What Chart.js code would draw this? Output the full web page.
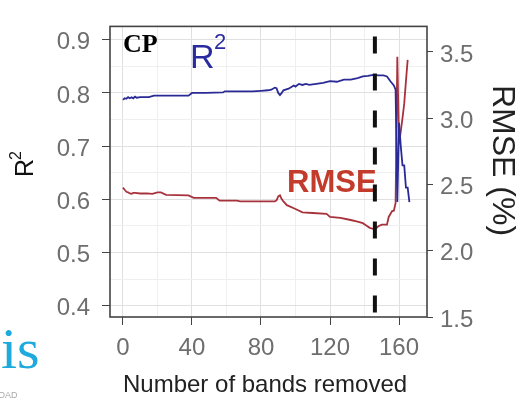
<!DOCTYPE html>
<html><head><meta charset="utf-8">
<script src="https://cdn.jsdelivr.net/npm/chart.js@4"></script>
<style>html,body{margin:0;padding:0;background:#fff;}#wrap{width:520px;height:400px;position:relative;}</style>
</head><body><div id="wrap"><canvas id="c" width="520" height="400"></canvas></div>
<script>
// ---- data ----
const bandsR2 = [0,1,2,3,4,5,6,7,8,10,12,15,18,25,32,38,40,48,58,59,66,75,80,84,86,88,89,90,91,92,93,96,99,100,102,104,106,108,112,116,120,124,128,132,136,139,142,145,148,151,153,155,157,158,159,160,161,162,163,164,165,166];
const r2Values = [0.787,0.790,0.789,0.792,0.790,0.792,0.790,0.793,0.791,0.792,0.792,0.792,0.795,0.795,0.795,0.795,0.800,0.800,0.801,0.803,0.803,0.803,0.804,0.805,0.806,0.810,0.809,0.800,0.796,0.800,0.805,0.808,0.814,0.812,0.817,0.815,0.817,0.815,0.817,0.819,0.822,0.821,0.825,0.825,0.828,0.831,0.832,0.834,0.833,0.833,0.831,0.822,0.814,0.806,0.595,0.744,0.700,0.664,0.664,0.622,0.622,0.595];
const bandsRMSE = [0,1,2,3,4,5,6,7,10,14,17,20,22,25,38,41,54,56,66,68,88,89,90,91,92,93,95,100,104,110,118,120,126,132,136,139,141,143,146,148,150,153,154,156,157,158,159,160,161,162,163,164,165];
const rmseValues = [2.476,2.460,2.445,2.441,2.432,2.429,2.436,2.436,2.432,2.433,2.429,2.440,2.440,2.422,2.418,2.399,2.399,2.378,2.378,2.372,2.372,2.380,2.410,2.418,2.390,2.372,2.344,2.315,2.290,2.285,2.278,2.255,2.248,2.232,2.220,2.208,2.190,2.173,2.162,2.185,2.197,2.197,2.255,2.300,2.302,2.360,3.463,2.810,2.900,3.000,3.110,3.280,3.440];
const cutoffBand = 146;
const xTicks = [0,40,80,120,160];
const xGrid = [0,20,40,60,80,100,120,140,160];
const r2Ticks = [0.4,0.5,0.6,0.7,0.8,0.9];
const r2Grid = [0.4,0.45,0.5,0.55,0.6,0.65,0.7,0.75,0.8,0.85,0.9];
const rmseTicks = [1.5,2.0,2.5,3.0,3.5];

const SANS = '"Liberation Sans", Arial, sans-serif';
const SERIF = '"Liberation Serif", "Times New Roman", serif';
const isMajor = (arr, v) => arr.some(t => Math.abs(t - v) < 1e-6);

const deco = {
  id: 'deco',
  afterDatasetsDraw(chart) {
    const c = chart.ctx, a = chart.chartArea, xs = chart.scales.x;
    c.save();
    // annotations
    c.fillStyle = '#000';
    c.font = 'bold 26px ' + SERIF;
    c.textAlign = 'left'; c.textBaseline = 'alphabetic';
    c.fillText('CP', 123, 52);
    c.fillStyle = '#2b2ba0';
    c.font = '34px ' + SANS;
    c.fillText('R', 190, 68);
    c.font = '22px ' + SANS;
    c.fillText('2', 214, 49);
    c.fillStyle = '#c23b2b';
    c.font = 'bold 31px ' + SANS;
    c.fillText('RMSE', 287, 192);
    // dashed cutoff line
    const xp = xs.getPixelForValue(cutoffBand);
    c.strokeStyle = '#111';
    c.lineWidth = 4;
    c.setLineDash([17, 20]);
    c.lineDashOffset = 27;
    c.beginPath(); c.moveTo(xp, a.top); c.lineTo(xp, a.bottom); c.stroke();
    c.setLineDash([]);
    // panel border
    c.strokeStyle = '#444';
    c.lineWidth = 1.6;
    c.strokeRect(a.left, a.top, a.right - a.left, a.bottom - a.top);
    c.restore();
  },
  afterDraw(chart) {
    const c = chart.ctx;
    c.save();
    c.textAlign = 'left'; c.textBaseline = 'alphabetic';
    c.fillStyle = '#222';
    c.font = '24px ' + SANS;
    c.fillText('Number of bands removed', 123, 392);
    // left title
    c.save();
    c.translate(33, 177); c.rotate(-Math.PI / 2);
    c.fillStyle = '#111';
    c.font = '25px ' + SANS;
    c.fillText('R', 0, 0);
    c.font = '16px ' + SANS;
    c.fillText('2', 17, -12);
    c.restore();
    // right title
    c.save();
    c.translate(493, 85); c.rotate(Math.PI / 2);
    c.fillStyle = '#222';
    c.font = '32px ' + SANS;
    c.fillText('RMSE (%)', 0, 0);
    c.restore();
    // watermark fragments
    c.fillStyle = '#1eaadd';
    c.font = '58px ' + SERIF;
    c.fillText('is', 1, 368);
    c.fillStyle = '#aaa';
    c.font = '9px ' + SANS;
    c.fillText('OAD', -2, 398);
    c.restore();
  }
};

new Chart(document.getElementById('c'), {
  type: 'line',
  data: {
    datasets: [
      { label: 'R2', data: bandsR2.map((x, i) => ({ x, y: r2Values[i] })), yAxisID: 'y',
        borderColor: '#2a2a96', borderWidth: 1.8, pointRadius: 0, tension: 0, fill: false },
      { label: 'RMSE', data: bandsRMSE.map((x, i) => ({ x, y: rmseValues[i] })), yAxisID: 'y2',
        borderColor: '#a8323c', borderWidth: 1.8, pointRadius: 0, tension: 0, fill: false }
    ]
  },
  options: {
    responsive: false, animation: false,
    layout: { padding: { top: 3, left: 0, right: 0, bottom: 0 } },
    plugins: { legend: { display: false }, tooltip: { enabled: false } },
    scales: {
      x: {
        type: 'linear', min: -7.5, max: 176.2,
        afterBuildTicks: s => { s.ticks = xGrid.map(v => ({ value: v })); },
        afterFit: s => { s.height = 83; },
        border: { display: false },
        grid: { color: ctx => isMajor(xTicks, ctx.tick.value) ? '#e0e0e0' : '#efefef', lineWidth: 1,
                tickLength: 8, tickColor: ctx => isMajor(xTicks, ctx.tick.value) ? '#444' : 'rgba(0,0,0,0)' },
        ticks: { font: { size: 24, family: SANS }, color: '#6e6e6e', padding: 9, maxRotation: 0, autoSkip: false,
                 callback: v => isMajor(xTicks, v) ? String(v) : '' }
      },
      y: {
        type: 'linear', position: 'left', min: 0.379, max: 0.925,
        afterBuildTicks: s => { s.ticks = r2Grid.map(v => ({ value: v })); },
        afterFit: s => { s.width = 110; },
        border: { display: false },
        grid: { color: ctx => isMajor(r2Ticks, ctx.tick.value) ? '#e0e0e0' : '#efefef', lineWidth: 1,
                tickLength: 8, tickColor: ctx => isMajor(r2Ticks, ctx.tick.value) ? '#444' : 'rgba(0,0,0,0)' },
        ticks: { font: { size: 24, family: SANS }, color: '#6e6e6e', padding: 12, labelOffset: 3, autoSkip: false,
                 callback: v => isMajor(r2Ticks, v) ? v.toFixed(1) : '' }
      },
      y2: {
        type: 'linear', position: 'right', min: 1.5, max: 3.693,
        afterBuildTicks: s => { s.ticks = rmseTicks.map(v => ({ value: v })); },
        afterFit: s => { s.width = 93; },
        border: { display: false },
        grid: { drawOnChartArea: false, tickLength: 6, tickColor: '#444' },
        ticks: { font: { size: 24, family: SANS }, color: '#6e6e6e', padding: 7, labelOffset: 3, autoSkip: false,
                 callback: v => v.toFixed(1) }
      }
    }
  },
  plugins: [deco]
});
</script></body></html>
